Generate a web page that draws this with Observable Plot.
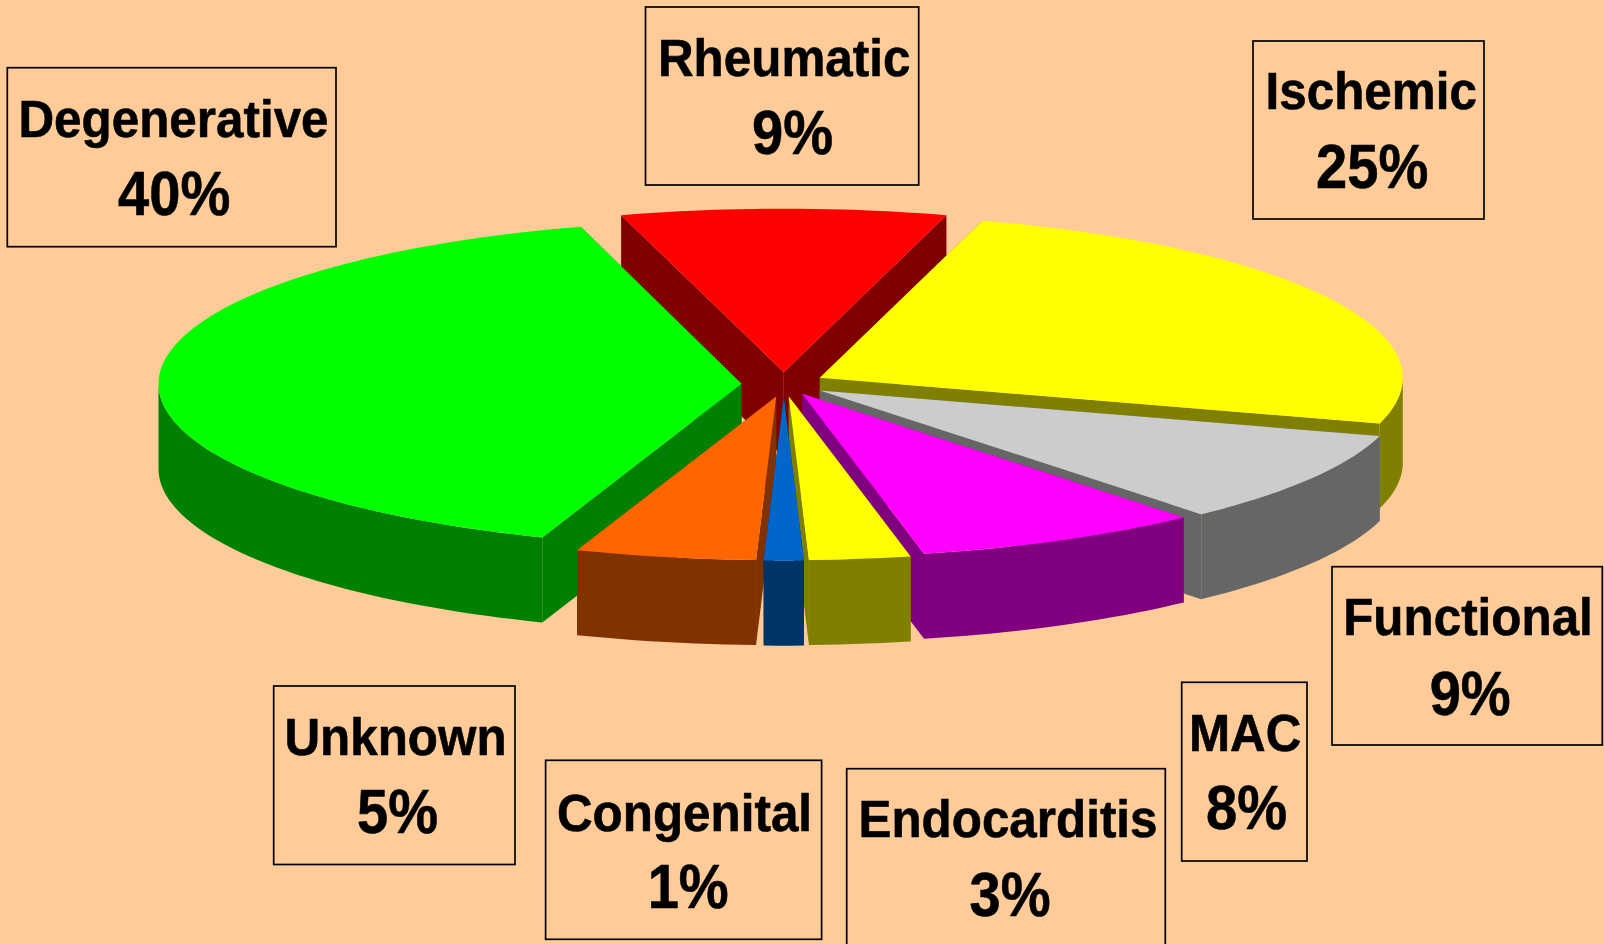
<!DOCTYPE html>
<html>
<head>
<meta charset="utf-8">
<script src="https://cdn.jsdelivr.net/npm/d3@7"></script>
<script src="https://cdn.jsdelivr.net/npm/@observablehq/plot@0.6"></script>
<style>
html,body{margin:0;padding:0;background:#ffcc99;overflow:hidden;}
svg{display:block;}
</style>
</head>
<body>
<div id="chart"></div>
<script>
// ---- data: share of each cause, clockwise from the Rheumatic slice
const categories = ["Rheumatic","Ischemic","Functional","MAC","Endocarditis","Congenital","Unknown","Degenerative"];
const shares     = [9, 25, 9.15, 8, 2.8, 1.1, 5, 40];

// ---- styles
const topColors  = ["#ff0000","#ffff00","#cccccc","#ff00ff","#ffff00","#0066cc","#ff6600","#00ff00"];
const wallColors = ["#800000","#808000","#666666","#800080","#808000","#003366","#803300","#008000"];

// ---- layout (pie projection, per-slice explosion, label boxes)
const rx = 583, ry = 163.5, depth = 85, startDeg = -16.2;
const apexX = [783.3, 819.3, 819.3, 801.7, 788.3, 783.3, 775.7, 741];
const apexY = [371.7, 377.3, 390, 393.3, 396, 396.7, 396, 383.3];
const paintOrder = [0, 7, 1, 2, 3, 6, 4, 5];
const boxLeft   = [645.5, 1253, 1332, 1181.7, 846.7, 545.6, 273.7, 7.3];
const boxRight  = [918.7, 1484, 1602.3, 1307, 1165.3, 821.6, 515, 336];
const boxTop    = [7, 41, 566.7, 682.3, 768.7, 760.3, 686, 67.7];
const boxBottom = [185, 219, 745, 861, 952, 939.3, 864.5, 246.7];
const nameX = [783.7, 1370.7, 1467.5, 1244.7, 1007.5, 684, 395, 173];
const nameY = [75, 108.5, 634.5, 750, 836.5, 830, 754.5, 136];
const pctX  = [792, 1371.7, 1469.7, 1246, 1009.5, 687.7, 397, 173.7];
const pctY  = [153, 187, 714, 828.5, 915, 907.5, 832.5, 214.5];

// ---- build polygons from the shares
let cursor = startDeg;
const slices = shares.map((share, i) => {
  const from = cursor, to = cursor + share * 3.6;
  cursor = to;
  return {i, from, to};
});
const pt = (s, deg, drop = 0) => {
  const a = deg * Math.PI / 180;
  return {x: apexX[s.i] + rx * Math.sin(a), y: apexY[s.i] - ry * Math.cos(a) + drop};
};
const arc = (s, drop = 0, from = s.from, to = s.to) => {
  const n = Math.max(2, Math.ceil((to - from) / 1.5));
  return d3.range(n + 1).map(k => pt(s, from + (to - from) * k / n, drop));
};
const polys = [];
const addPoly = (id, fill, pts) => pts.forEach(p => polys.push({id, fill, x: p.x, y: p.y}));
paintOrder.forEach(i => {
  const s = slices[i];
  const apex = {x: apexX[i], y: apexY[i]};
  const low = {x: apexX[i], y: apexY[i] + depth};
  addPoly(`w1-${i}`, wallColors[i], [apex, pt(s, s.from), pt(s, s.from, depth), low]);
  addPoly(`w2-${i}`, wallColors[i], [apex, pt(s, s.to), pt(s, s.to, depth), low]);
  // the outer wall is only seen on the near half of the rim (90° to 270°)
  const f = Math.max(s.from, 90), t = Math.min(s.to, 270);
  if (t > f) addPoly(`w3-${i}`, wallColors[i], [...arc(s, 0, f, t), ...arc(s, depth, f, t).reverse()]);
  addPoly(`t-${i}`, topColors[i], [apex, ...arc(s)]);
});

const boxes = categories.map((c, i) => ({x1: boxLeft[i], x2: boxRight[i], y1: boxTop[i], y2: boxBottom[i]}));
const nameLabels = categories.map((c, i) => ({text: c, x: nameX[i], y: nameY[i]}));
const pctLabels = categories.map((c, i) => ({text: Math.round(shares[i]) + "%", x: pctX[i], y: pctY[i]}));

// horizontal squeeze of the glyphs, as in the reference's narrow bold face
const squeeze = k => (index, scales, values, dims, ctx, next) => {
  const g = next(index, scales, values, dims, ctx);
  g.querySelectorAll("text").forEach(t => t.setAttribute("transform", (t.getAttribute("transform") || "") + ` scale(${k},1)`));
  return g;
};

const chart = Plot.plot({
  width: 1604, height: 944,
  margin: 0,
  x: {type: "linear", domain: [0, 1604], range: [0, 1604], axis: null},
  y: {type: "linear", domain: [0, 944], range: [0, 944], axis: null},
  color: {type: "identity"},
  style: {background: "#ffcc99", fontFamily: "'Liberation Sans', Arial, sans-serif"},
  marks: [
    Plot.line(polys, {x: "x", y: "y", z: "id", fill: "fill", stroke: "none", curve: "linear"}),
    Plot.rect(boxes, {x1: "x1", x2: "x2", y1: "y1", y2: "y2", fill: "none", stroke: "#000", strokeWidth: 1.7}),
    Plot.text(nameLabels, {x: "x", y: "y", text: "text", fontSize: 52, fontWeight: "bold", fill: "#000", stroke: "#000", strokeWidth: 0.6, textAnchor: "middle", lineAnchor: "bottom", render: squeeze(0.95)}),
    Plot.text(pctLabels, {x: "x", y: "y", text: "text", fontSize: 63, fontWeight: "bold", fill: "#000", stroke: "#000", strokeWidth: 0.6, textAnchor: "middle", lineAnchor: "bottom", render: squeeze(0.89)})
  ]
});
document.getElementById("chart").appendChild(chart);
</script>
</body>
</html>
